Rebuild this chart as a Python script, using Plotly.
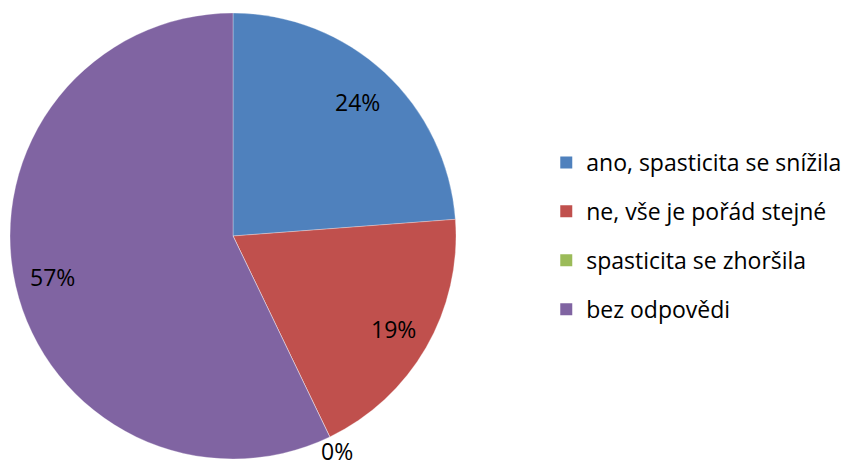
import math
import plotly.graph_objects as go

categories = ["ano, spasticita se snížila", "ne, vše je pořád stejné", "spasticita se zhoršila", "bez odpovědi"]
values = [5, 4, 0, 12]
colors = ["#4F81BD", "#C0504D", "#9BBB59", "#8064A2"]
label_radius = [0.82, 0.83, 1.07, 0.83]  # fraction of pie radius where percent labels sit

FONT = "Open Sans"
FS = 23
W, H = 843, 470
CX, CY, R = 233, 236, 223  # pie centre / radius in pixels

fig = go.Figure()
fig.add_trace(go.Pie(
    labels=categories,
    values=values,
    sort=False,
    direction="clockwise",
    rotation=0,
    marker=dict(colors=colors, line=dict(color="rgba(255,255,255,0.6)", width=0.5)),
    textinfo="none",
    domain=dict(x=[(CX - R) / W, (CX + R) / W], y=[1 - (CY + R) / H, 1 - (CY - R) / H]),
    showlegend=False,
    hoverinfo="label+percent",
))

# percent labels placed at each slice's mid-angle (derived from the values)
total = sum(values)
cum = 0
for v, rf in zip(values, label_radius):
    mid = (cum + v / 2) / total * 2 * math.pi
    cum += v
    px = CX + rf * R * math.sin(mid)
    py = CY - rf * R * math.cos(mid)
    fig.add_annotation(
        x=px / W, y=1 - py / H, xref="paper", yref="paper",
        text=f"{round(100 * v / total)}%", showarrow=False,
        font=dict(family=FONT, size=FS, color="black"),
        xanchor="center", yanchor="middle",
    )

for cat, col in zip(categories, colors):
    fig.add_trace(go.Scatter(
        x=[None], y=[None], mode="markers", name=cat,
        marker=dict(symbol="square", size=11, color=col),
        legendgroup=cat, showlegend=True,
    ))

fig.update_layout(
    width=W, height=H,
    margin=dict(l=0, r=0, t=0, b=0, autoexpand=False),
    paper_bgcolor="white", plot_bgcolor="white",
    xaxis=dict(visible=False), yaxis=dict(visible=False),
    legend=dict(x=0.648, y=0.70, xanchor="left", yanchor="top",
                font=dict(family=FONT, size=FS, color="black"),
                bgcolor="rgba(0,0,0,0)",
                tracegroupgap=16, itemsizing="constant"),
)
fig.write_html("out.html")
